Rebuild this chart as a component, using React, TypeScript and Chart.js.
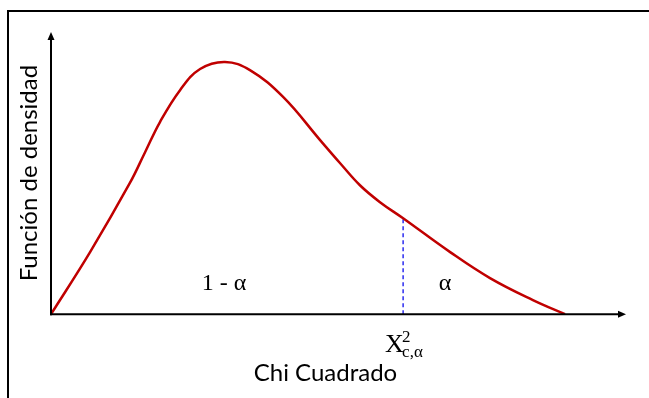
import React, { useEffect, useRef } from "react";
import { Chart, registerables } from "chart.js";

Chart.register(...registerables);

// Curve of the density function (chi-square-like shape)
const chiX = [0, 1.52, 3.07, 3.66, 4.24, 5.02, 5.8, 6.77, 7.74, 9.03, 10.47, 11.25, 12.02, 12.8, 13.7, 15.53, 17.08, 18.75, 20.0];
const density = [0, 22.0, 46.5, 57.4, 68.1, 79.4, 86.9, 89.4, 86.5, 77.0, 61.7, 53.5, 45.7, 39.7, 34.0, 22.0, 12.8, 5.0, 0];

const criticalX = 13.7;
const criticalY = 34.0;

const regionLabels = ["1 - α", "α"];
const regionLabelX = [6.73, 15.33];
const regionLabelY = 8.5;

const xTitle = "Chi Cuadrado";
const yTitle = "Función de densidad";
const xMin = 0;
const xMax = 21.36;
const yMin = 0;
const yMax = 100;

const decorPlugin = {
  id: "decor",
  afterDatasetsDraw(chart: any) {
    const { ctx, chartArea: ca, scales } = chart;
    const xs = scales.x;
    const ys = scales.y;
    ctx.save();
    // outer frame
    ctx.fillStyle = "#000";
    ctx.fillRect(7, 10, 700, 2);
    ctx.fillRect(7, 10, 2, 420);

    const x0 = ca.left;
    const y0 = ca.bottom;
    ctx.strokeStyle = "#000";
    ctx.lineWidth = 2;
    // y axis
    ctx.beginPath();
    ctx.moveTo(x0, y0 + 1);
    ctx.lineTo(x0, ca.top + 6);
    ctx.stroke();
    ctx.beginPath();
    ctx.moveTo(x0, ca.top);
    ctx.lineTo(x0 - 3.5, ca.top + 8);
    ctx.lineTo(x0 + 3.5, ca.top + 8);
    ctx.closePath();
    ctx.fill();
    // x axis
    const xEnd = ca.right + 26;
    ctx.beginPath();
    ctx.moveTo(x0 - 1, y0);
    ctx.lineTo(xEnd - 6, y0);
    ctx.stroke();
    ctx.beginPath();
    ctx.moveTo(xEnd, y0);
    ctx.lineTo(xEnd - 8, y0 - 3.5);
    ctx.lineTo(xEnd - 8, y0 + 3.5);
    ctx.closePath();
    ctx.fill();

    // region labels
    ctx.fillStyle = "#000";
    ctx.font = "24px 'Liberation Serif'";
    ctx.textAlign = "center";
    ctx.textBaseline = "alphabetic";
    regionLabels.forEach((t, i) => {
      ctx.fillText(t, xs.getPixelForValue(regionLabelX[i]), ys.getPixelForValue(regionLabelY));
    });

    // critical value label
    const xc = xs.getPixelForValue(criticalX);
    ctx.textAlign = "left";
    ctx.font = "26px 'Liberation Serif'";
    ctx.fillText("X", xc - 18, y0 + 38);
    ctx.font = "17px 'Liberation Serif'";
    ctx.fillText("2", xc - 1, y0 + 28);
    ctx.fillText("c,α", xc - 1, y0 + 43);
    ctx.restore();
  },
};

export default function App() {
  const ref = useRef<HTMLCanvasElement | null>(null);

  useEffect(() => {
    if (!ref.current) return;
    const chart = new Chart(ref.current, {
      type: "line",
      data: {
        datasets: [
          {
            data: chiX.map((x, i) => ({ x, y: density[i] })),
            borderColor: "#c00000",
            borderWidth: 2.5,
            pointRadius: 0,
            fill: false,
            tension: 0.4,
          },
          {
            data: [
              { x: criticalX, y: 0 },
              { x: criticalX, y: criticalY },
            ],
            borderColor: "#2b2bf0",
            borderWidth: 1.5,
            borderDash: [4, 3],
            pointRadius: 0,
            fill: false,
          },
        ],
      },
      options: {
        responsive: false,
        animation: false,
        layout: { padding: { left: 11, right: 49, top: 32, bottom: 6 } },
        plugins: { legend: { display: false }, tooltip: { enabled: false } },
        scales: {
          x: {
            type: "linear",
            min: xMin,
            max: xMax,
            grid: { display: false, drawTicks: false },
            border: { display: false },
            ticks: { display: false },
            title: {
              display: true,
              text: xTitle,
              color: "#000",
              font: { family: "Lato", size: 24 },
              padding: { top: 45, bottom: 4 },
            },
          },
          y: {
            min: yMin,
            max: yMax,
            grid: { display: false, drawTicks: false },
            border: { display: false },
            ticks: { display: false },
            title: {
              display: true,
              text: yTitle,
              color: "#000",
              font: { family: "Lato", size: 24 },
              padding: { top: 4, bottom: 7.2 },
            },
          },
        },
      },
      plugins: [decorPlugin],
    });
    return () => chart.destroy();
  }, []);

  return (
    <div style={{ position: "absolute", left: 0, top: 0, width: 649, height: 398 }}>
      <canvas ref={ref} width={649} height={398} style={{ display: "block" }} />
    </div>
  );
}
